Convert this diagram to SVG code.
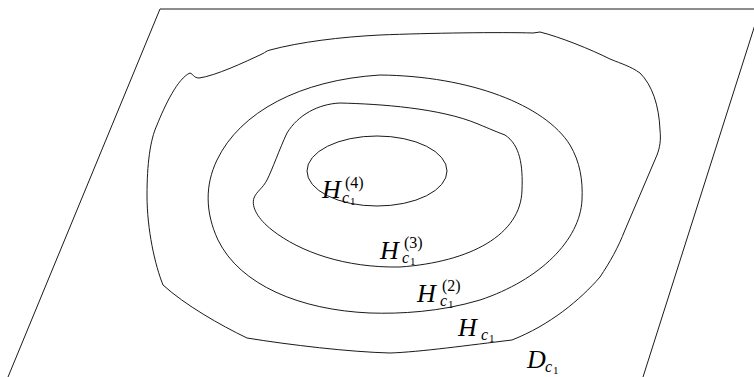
<svg xmlns="http://www.w3.org/2000/svg" width="754" height="377" viewBox="0 0 754 377">
<style>
.ln{fill:none;stroke:#1a1a1a;stroke-width:1;stroke-linejoin:round}
.m{font-family:"Liberation Serif",serif;fill:#000}
.big{font-size:26px;font-style:italic}
.sup{font-size:16px}
.subc{font-size:16px;font-style:italic}
.sub1{font-size:11px}
</style>
<rect width="754" height="377" fill="#fff"/>
<g id="plane">
<path class="ln" d="M 8,377 L 160,9 L 760,9 M 760,9 L 643,377"/>
</g>
<g id="connectors">
<path id="level1" class="ln" d="M 190,73 C 193,74 194,78 199,78 C 215,76 245,62 262,54 C 266,52 266,51 270,50 C 300,42 340,37 380,35 C 430,33 500,32 533,33 L 540,32 C 560,37 590,49 610,59 C 622,64 630,66 640,73 C 652,85 659,105 660,130 C 661,140 660,147 657,155 L 625,230 C 618,248 610,262 600,277 C 580,300 550,325 512,340 C 470,345 420,352 390,353 C 350,352 290,345 247,338 C 220,325 185,305 163,285 C 155,265 147,230 147,195 C 147,165 150,140 157,125 C 165,105 178,78 190,73 Z"/>
<path id="level2" class="ln" d="M 380,75 C 470,76 545,105 570,145 C 580,162 583,180 582,200 C 580,240 540,280 480,300 C 440,312 400,314 370,313 C 300,310 240,285 218,240 C 205,212 205,185 217,160 C 240,112 300,80 380,75 Z"/>
<path id="level3" class="ln" d="M 340,103 C 380,104 440,108 478,124 C 490,129 497,132 505,135 C 520,145 523,165 522,190 C 521,235 470,262 400,267 C 345,268 300,252 272,230 C 258,219 251,207 254,198 C 256,192 263,188 267,180 C 273,168 279,150 287,133 C 298,115 318,104 340,103 Z"/>
<ellipse id="level4" class="ln" cx="377" cy="171" rx="70" ry="35"/>
</g>
<g id="label-h4">
<text class="m"><tspan class="big" x="322" y="198">H</tspan><tspan class="sup" x="345" y="188">(4)</tspan><tspan class="subc" x="342" y="203">c</tspan><tspan class="sub1" x="350" y="205">1</tspan></text>
</g>
<g id="label-h3">
<text class="m"><tspan class="big" x="380" y="259">H</tspan><tspan class="sup" x="404" y="248">(3)</tspan><tspan class="subc" x="402" y="263">c</tspan><tspan class="sub1" x="410" y="265">1</tspan></text>
</g>
<g id="label-h2">
<text class="m"><tspan class="big" x="417" y="302">H</tspan><tspan class="sup" x="442" y="291">(2)</tspan><tspan class="subc" x="440" y="306">c</tspan><tspan class="sub1" x="448" y="308">1</tspan></text>
</g>
<g id="label-h1">
<text class="m"><tspan class="big" x="458" y="336">H</tspan><tspan class="subc" x="481" y="340">c</tspan><tspan class="sub1" x="489" y="342">1</tspan></text>
</g>
<g id="label-d">
<text class="m"><tspan class="big" x="527" y="368">D</tspan><tspan class="subc" x="545" y="372">c</tspan><tspan class="sub1" x="553" y="374">1</tspan></text>
</g>
</svg>
